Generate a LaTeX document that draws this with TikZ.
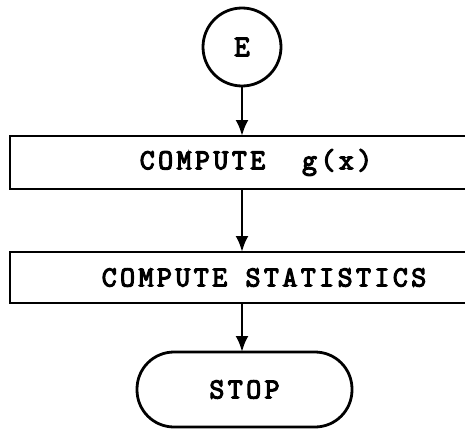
\documentclass[tikz,border=0pt]{standalone}
\usepackage{fontspec}
\newfontfamily\typer{Latin Modern Mono}[FakeBold=4,LetterSpace=12]
\usepackage{tikz}
\usetikzlibrary{arrows.meta,positioning}
\tikzset{
  startnode/.style={draw,circle,line width=2.8pt,minimum size=78pt,inner sep=0pt,
              outer sep=0pt,font=\typer\fontsize{30}{30}\selectfont},
  procbox/.style={draw,rectangle,line width=2.8pt,inner sep=0pt,
              outer sep=0pt,font=\typer\fontsize{29}{29}\selectfont},
  stopbox/.style={draw,rectangle,rounded corners=37pt,line width=2.8pt,minimum width=215pt,
              minimum height=75pt,inner sep=0pt,outer sep=0pt,
              font=\typer\fontsize{29}{29}\selectfont},
  flow/.style={-{Latex[length=16pt,width=13pt]},line width=2.8pt}
}
\begin{document}
\begin{tikzpicture}[x=1pt,y=-1pt]
  \useasboundingbox (0,0) rectangle (465,428);
  \node[startnode] (e) at (242,47) {\raisebox{-4pt}{E}};
  \node[procbox,minimum width=492pt,minimum height=53pt] (gx) at (256,162.5) {COMPUTE\ \ g(x)};
  \node[procbox,minimum width=508pt,minimum height=51pt] (stat) at (264,277.5) {COMPUTE STATISTICS};
  \node[stopbox] (stop) at (244.5,389.5) {STOP};

  \draw[flow] (e.south) -- (e.south |- gx.north);
  \draw[flow] (gx.south -| e) -- (stat.north -| e);
  \draw[flow] (stat.south -| e) -- (stop.north -| e);
\end{tikzpicture}
\end{document}
